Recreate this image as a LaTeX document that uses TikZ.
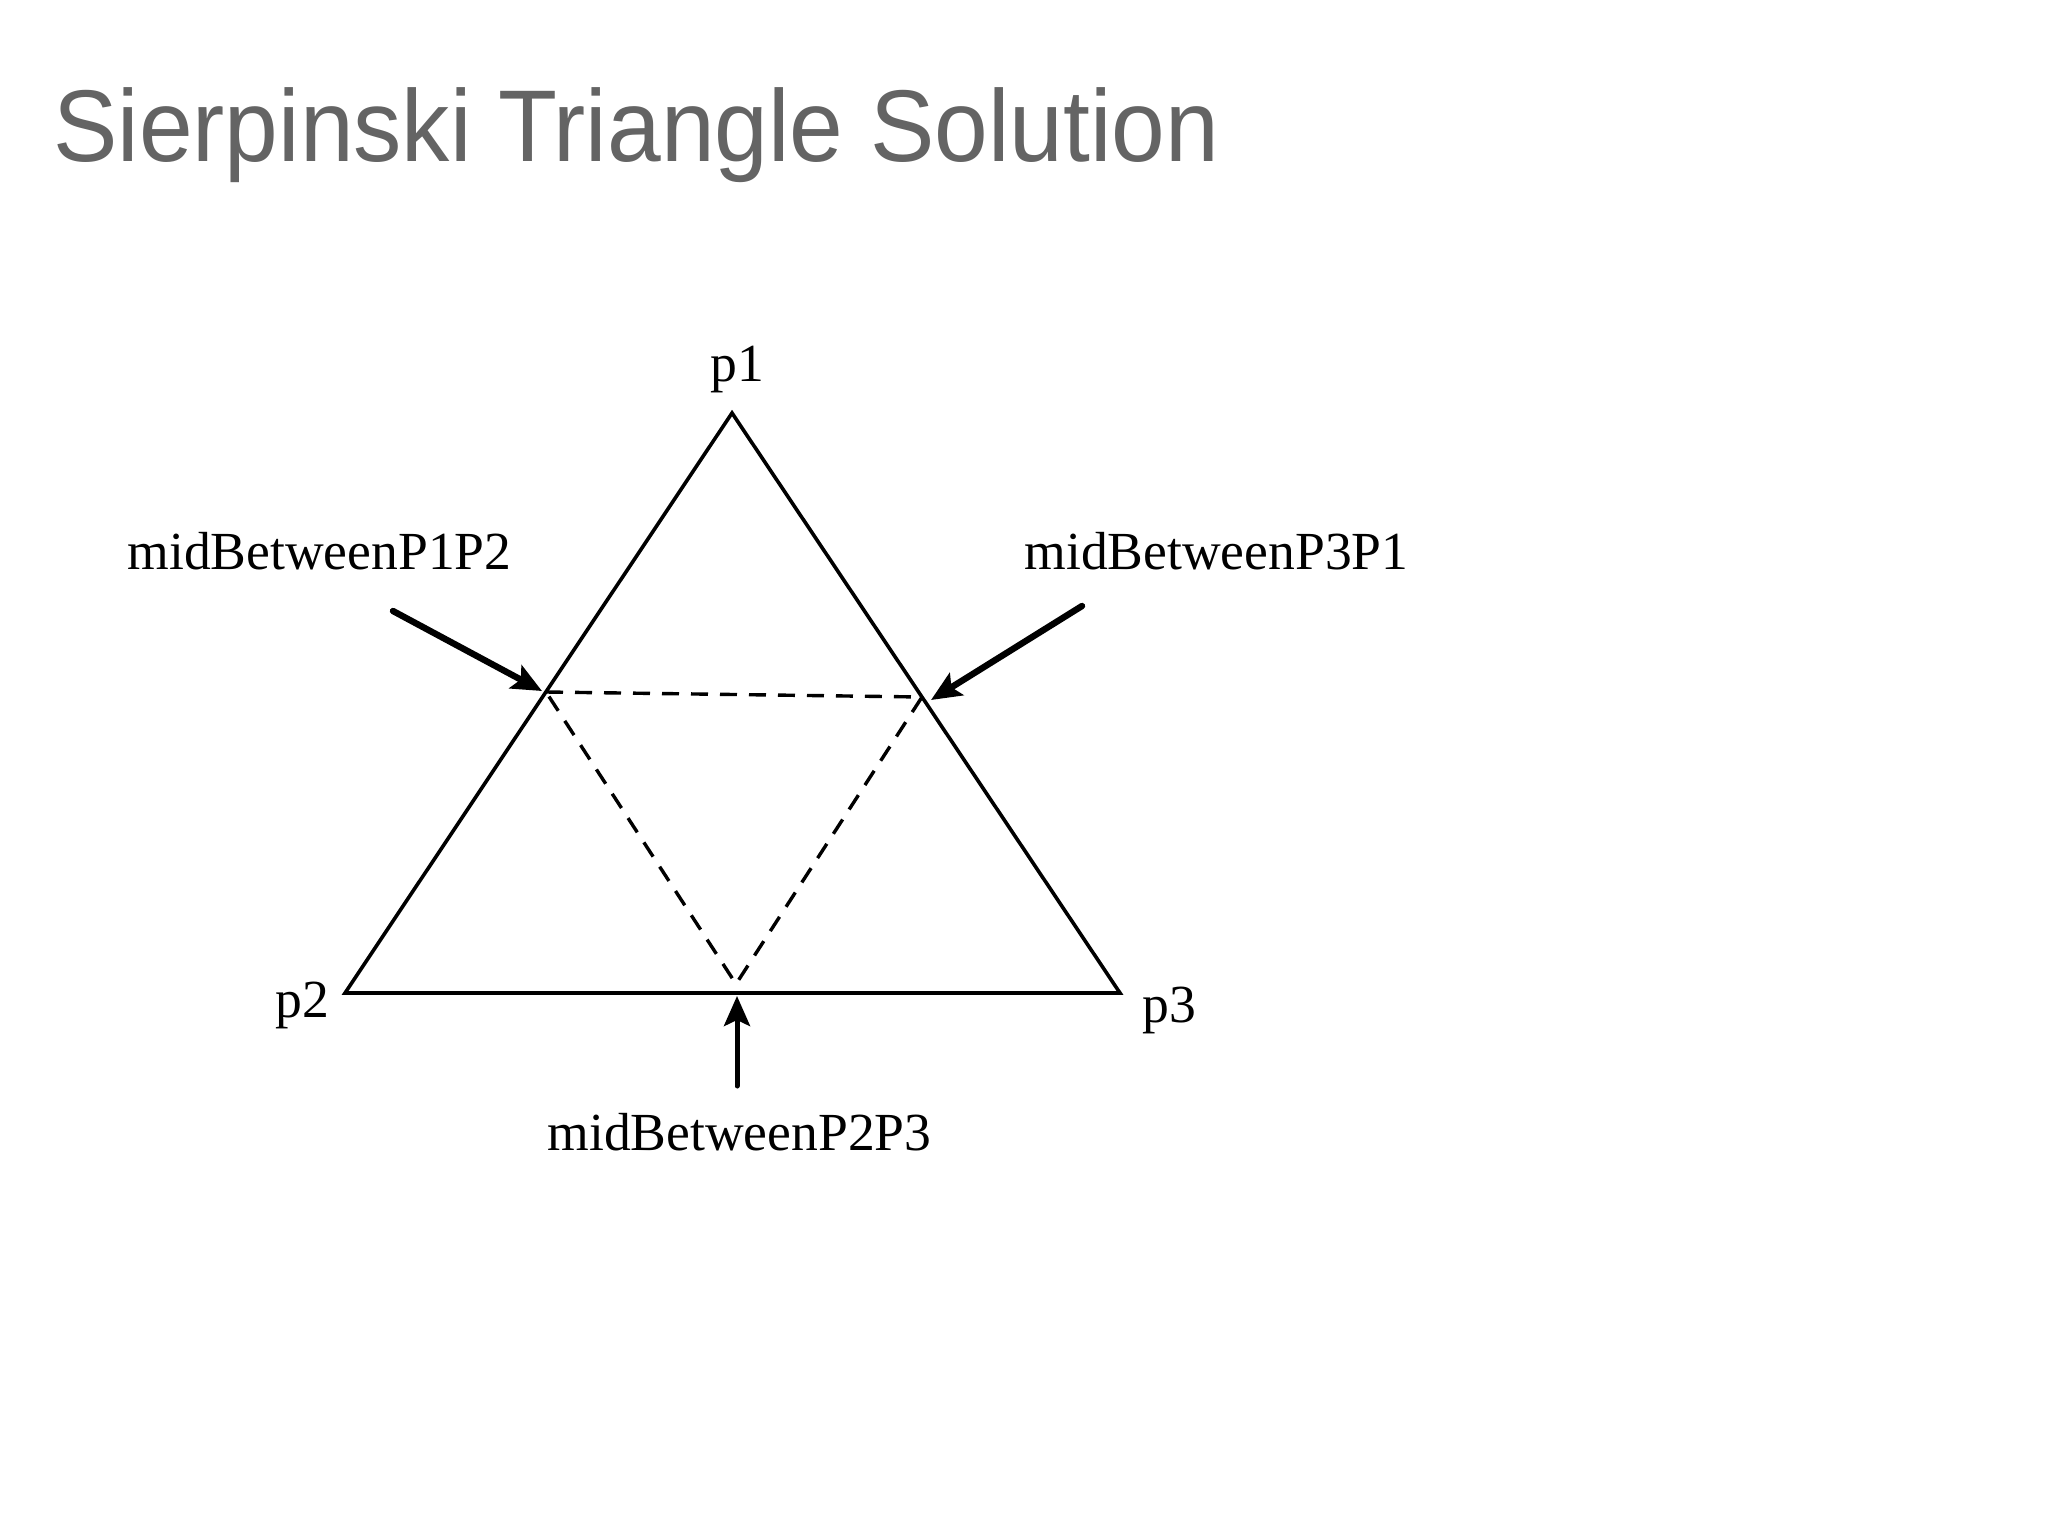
\documentclass[tikz,border=0pt]{standalone}
\usepackage{fontspec}
\setmainfont{Liberation Serif}
\newfontfamily\titlefont{Liberation Sans}
\usetikzlibrary{arrows.meta}
\definecolor{titlegray}{RGB}{100,100,100}
\tikzset{
  lbl/.style={inner sep=0pt, font=\fontsize{26.8}{30}\selectfont, text=black},
  edge/.style={line width=1.8pt, line join=miter, black},
  inner/.style={line width=1.7pt, dash pattern=on 8.5pt off 6pt, black},
  pointer/.style={line width=3.2pt, line cap=round, black,
    -{Stealth[length=15pt,width=13pt,inset=3pt]}},
}
\begin{document}
\begin{tikzpicture}[x=0.5pt,y=-0.5pt]
\useasboundingbox (0,0) rectangle (2048,1536);
\fill[white] (0,0) rectangle (2048,1536);
% title
\node[inner sep=0pt, anchor=base west, text=titlegray] (title) at (53,161)
  {\scalebox{0.965}[1.02]{\titlefont\fontsize{50}{56}\selectfont Sierpinski Triangle Solution}};
% vertices
\coordinate (P1) at (732,413);
\coordinate (P2) at (345,993);
\coordinate (P3) at (1120,993);
\coordinate (M12) at (546,692);
\coordinate (M31) at (922,697);
\coordinate (M23) at (736,984);
\coordinate (tip12) at (542,691);
\coordinate (tip31) at (931,700);
\coordinate (tip23) at (737,996);
\coordinate (T1) at (393,611);
\coordinate (T2) at (1082,606);
\coordinate (T3) at (737,1086);
% triangle
\draw[edge] (P1) -- (P2) -- (P3) -- cycle;
\draw[inner] (M12) -- (M31) -- (M23) -- cycle;
% labels
\node[lbl, anchor=base] (lp1) at (737,381) {p1};
\node[lbl, anchor=base west] (lp2) at (275,1017) {p2};
\node[lbl, anchor=base west] (lp3) at (1142,1022) {p3};
\node[lbl, anchor=base west] (l12) at (127,569) {midBetweenP1P2};
\node[lbl, anchor=base west] (l31) at (1024,569) {midBetweenP3P1};
\node[lbl, anchor=base west] (l23) at (547,1150) {midBetweenP2P3};
% pointers
\draw[pointer] (T1) -- (tip12);
\draw[pointer] (T2) -- (tip31);
\draw[pointer, line width=2.5pt] (T3) -- (tip23);
\end{tikzpicture}
\end{document}
